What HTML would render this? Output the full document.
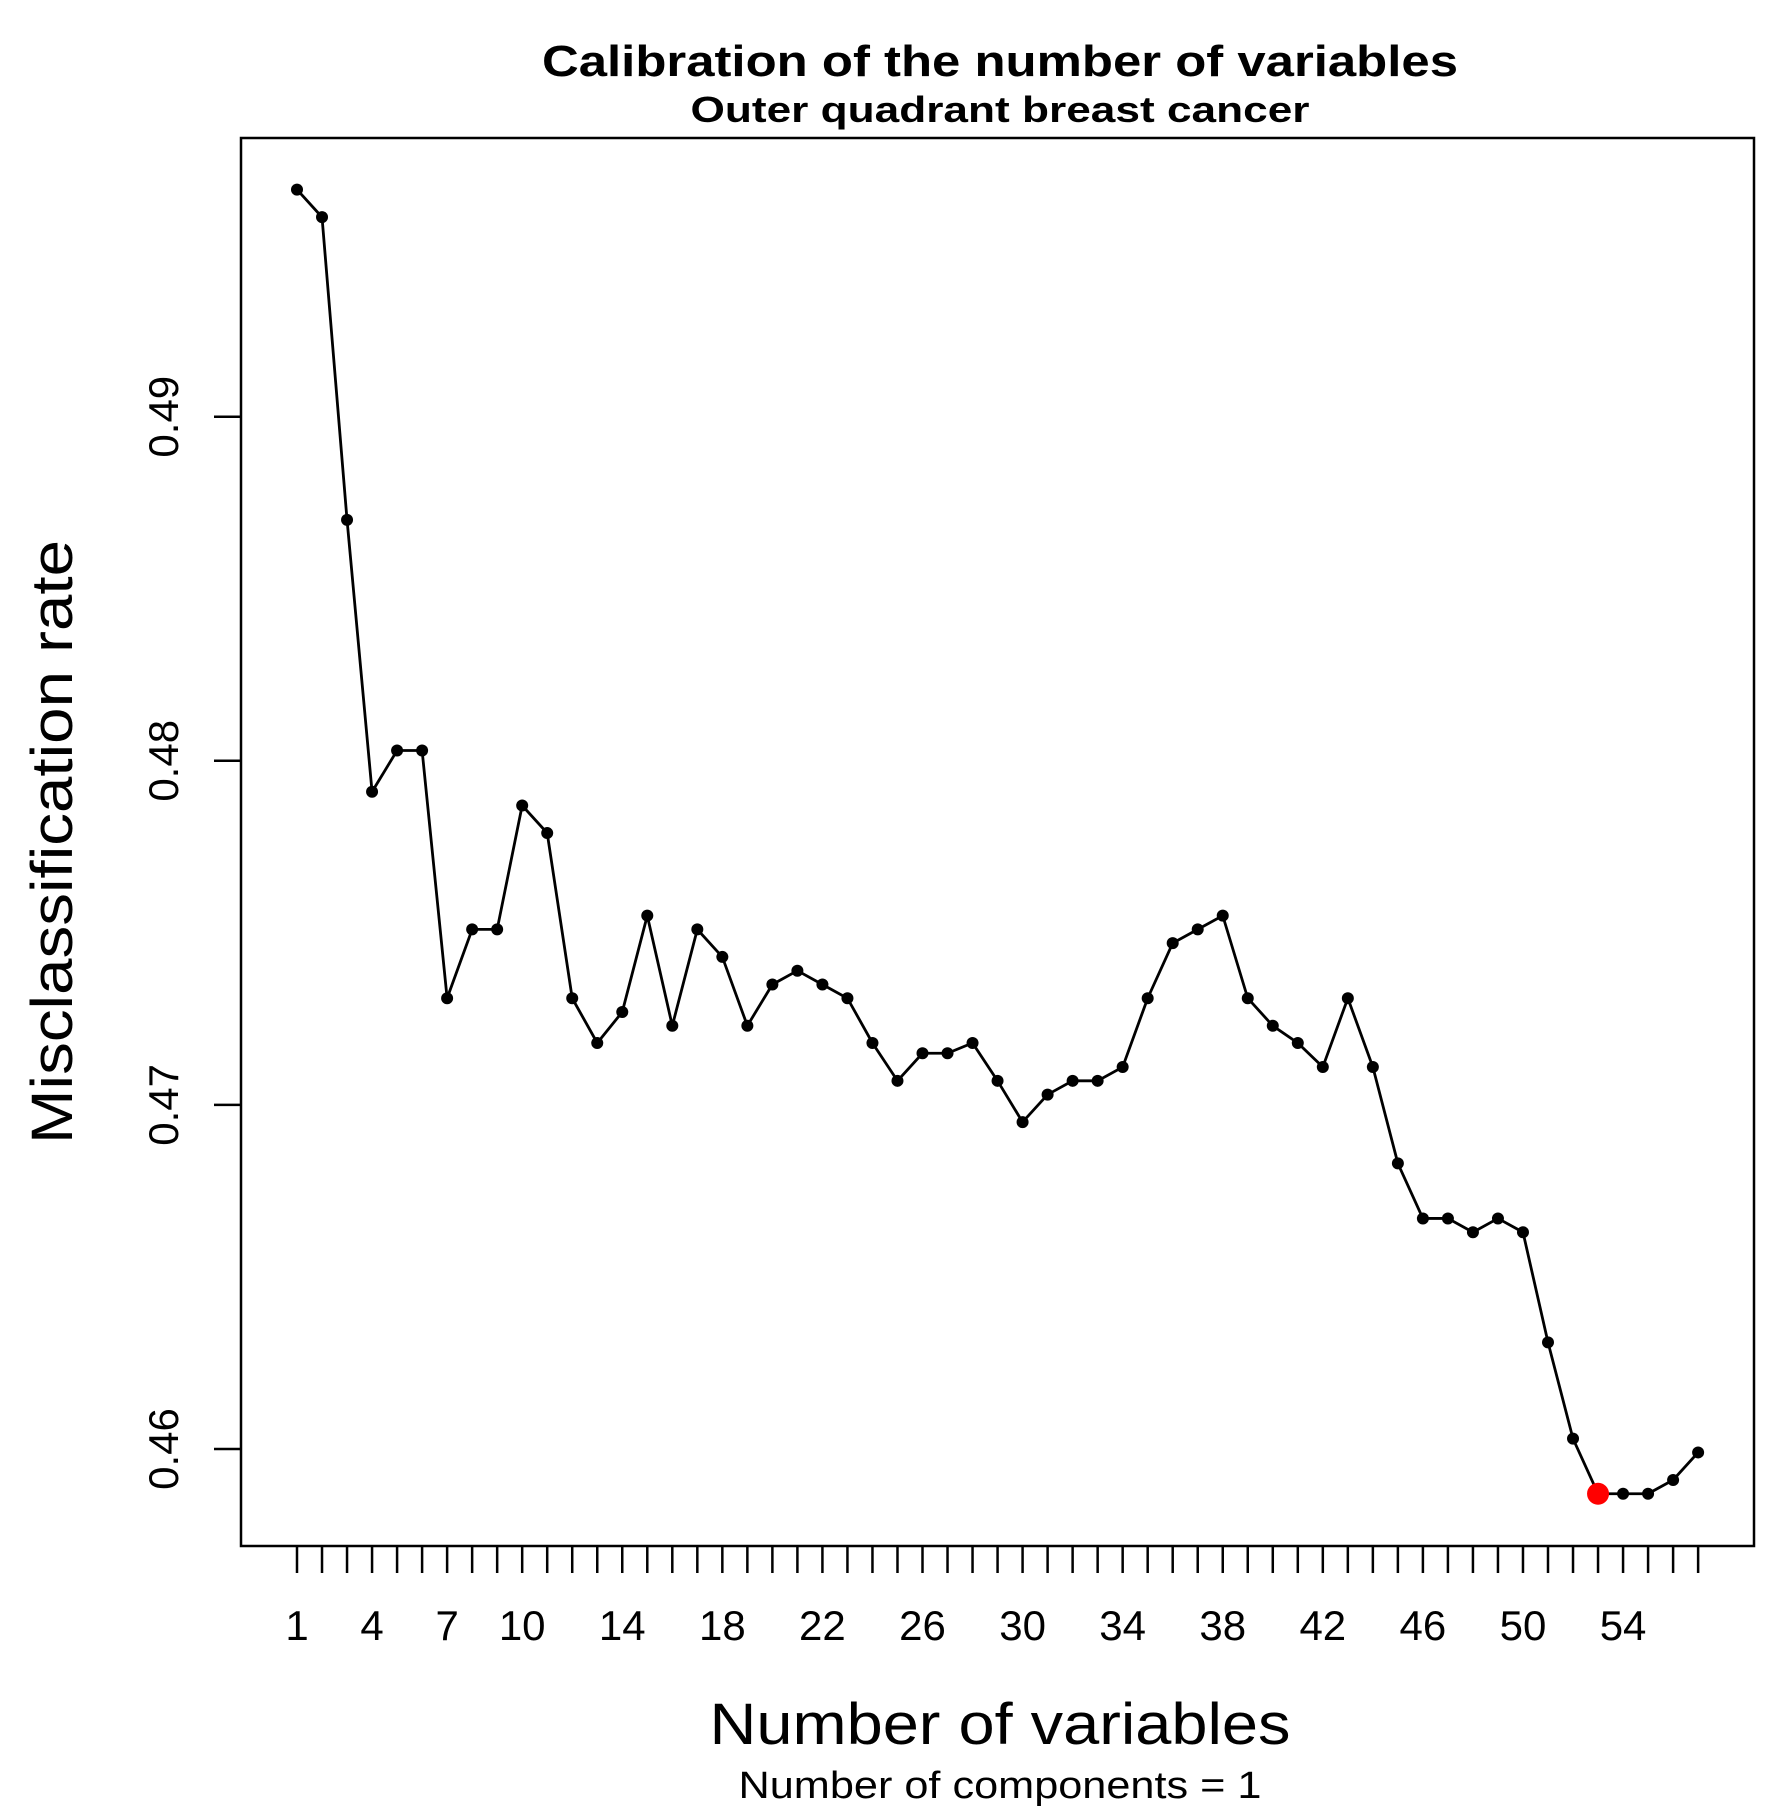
<!DOCTYPE html>
<html><head><meta charset="utf-8"><style>
html,body{margin:0;padding:0;background:#fff;}
svg{display:block;font-family:"Liberation Sans",Arial,sans-serif;}
</style></head><body>
<svg id="chart" width="1778" height="1810" viewBox="0 0 1778 1810">
<rect x="0" y="0" width="1778" height="1810" fill="#fff"/>
<text x="1000" y="76" text-anchor="middle" font-weight="bold" font-size="44" textLength="916" lengthAdjust="spacingAndGlyphs">Calibration of the number of variables</text>
<text x="1000" y="122" text-anchor="middle" font-weight="bold" font-size="36" textLength="619" lengthAdjust="spacingAndGlyphs">Outer quadrant breast cancer</text>
<rect x="241" y="138" width="1513" height="1408" fill="none" stroke="#000" stroke-width="2.5"/>
<g id="yaxis"></g>
<g id="xaxis"></g>
<g id="series"></g>
<text x="1000" y="1744" text-anchor="middle" font-size="58" textLength="581" lengthAdjust="spacingAndGlyphs">Number of variables</text>
<text x="1000" y="1798" text-anchor="middle" font-size="38" textLength="523" lengthAdjust="spacingAndGlyphs">Number of components = 1</text>
<text transform="translate(72,842) rotate(-90)" text-anchor="middle" font-size="58" textLength="604" lengthAdjust="spacingAndGlyphs">Misclassification rate</text>
</svg>
<script>
const categories = [];
for (let i = 1; i <= 57; i++) categories.push(i);
const rates = [0.4966,0.4958,0.4870,0.4791,0.4803,0.4803,0.4731,0.4751,0.4751,0.4787,
0.4779,0.4731,0.4718,0.4727,0.4755,0.4723,0.4751,0.4743,0.4723,0.4735,
0.4739,0.4735,0.4731,0.4718,0.4707,0.4715,0.4715,0.4718,0.4707,0.4695,
0.4703,0.4707,0.4707,0.4711,0.4731,0.4747,0.4751,0.4755,0.4731,0.4723,
0.4718,0.4711,0.4731,0.4711,0.4683,0.4667,0.4667,0.4663,0.4667,0.4663,
0.4631,0.4603,0.4587,0.4587,0.4587,0.4591,0.4599];
const yTicks = [0.46,0.47,0.48,0.49];
const yTickLabels = ["0.46","0.47","0.48","0.49"];
const xTickLabels = [1,4,7,10,14,18,22,26,30,34,38,42,46,50,54];

const NS = "http://www.w3.org/2000/svg";
function xs(v){ return 297 + (v - 1) * 25.02; }
function ys(v){ return 1449 - (v - 0.46) * 34410; }
function mk(tag, attrs, parent){ const e = document.createElementNS(NS, tag); for (const k in attrs) e.setAttribute(k, attrs[k]); parent.appendChild(e); return e; }

const yax = document.getElementById('yaxis');
yTicks.forEach((t, i) => {
  const l = mk('line', {x1:214, x2:241, y1:ys(t), y2:ys(t), stroke:'#000', 'stroke-width':2.5}, yax);
  
  
  const tx = mk('text', {transform:`translate(178,${ys(t)}) rotate(-90)`, 'text-anchor':'middle', 'font-size':42}, yax);
  tx.textContent = yTickLabels[i];
  
  
});

const xax = document.getElementById('xaxis');
categories.forEach(c => {
  const l = mk('line', {x1:xs(c), x2:xs(c), y1:1547, y2:1573, stroke:'#000', 'stroke-width':2.5}, xax);
  
  
});
xTickLabels.forEach(c => {
  const tx = mk('text', {x:xs(c), y:1640, 'text-anchor':'middle', 'font-size':42}, xax);
  tx.textContent = String(c);
  
  
});

const ser = document.getElementById('series');
const pts = categories.map((c, i) => xs(c) + ',' + ys(rates[i])).join(' ');
const pl = mk('polyline', {points:pts, fill:'none', stroke:'#000', 'stroke-width':2.8}, ser);


let minIdx = 0;
rates.forEach((r, i) => { if (r < rates[minIdx]) minIdx = i; });
categories.forEach((c, i) => {
  const p = mk('circle', {cx:xs(c), cy:ys(rates[i]), r:6, fill:'#000'}, ser);
  
  
});
const m = mk('circle', {cx:xs(categories[minIdx]), cy:ys(rates[minIdx]), r:11, fill:'#ff0000'}, ser);


</script>
</body></html>
